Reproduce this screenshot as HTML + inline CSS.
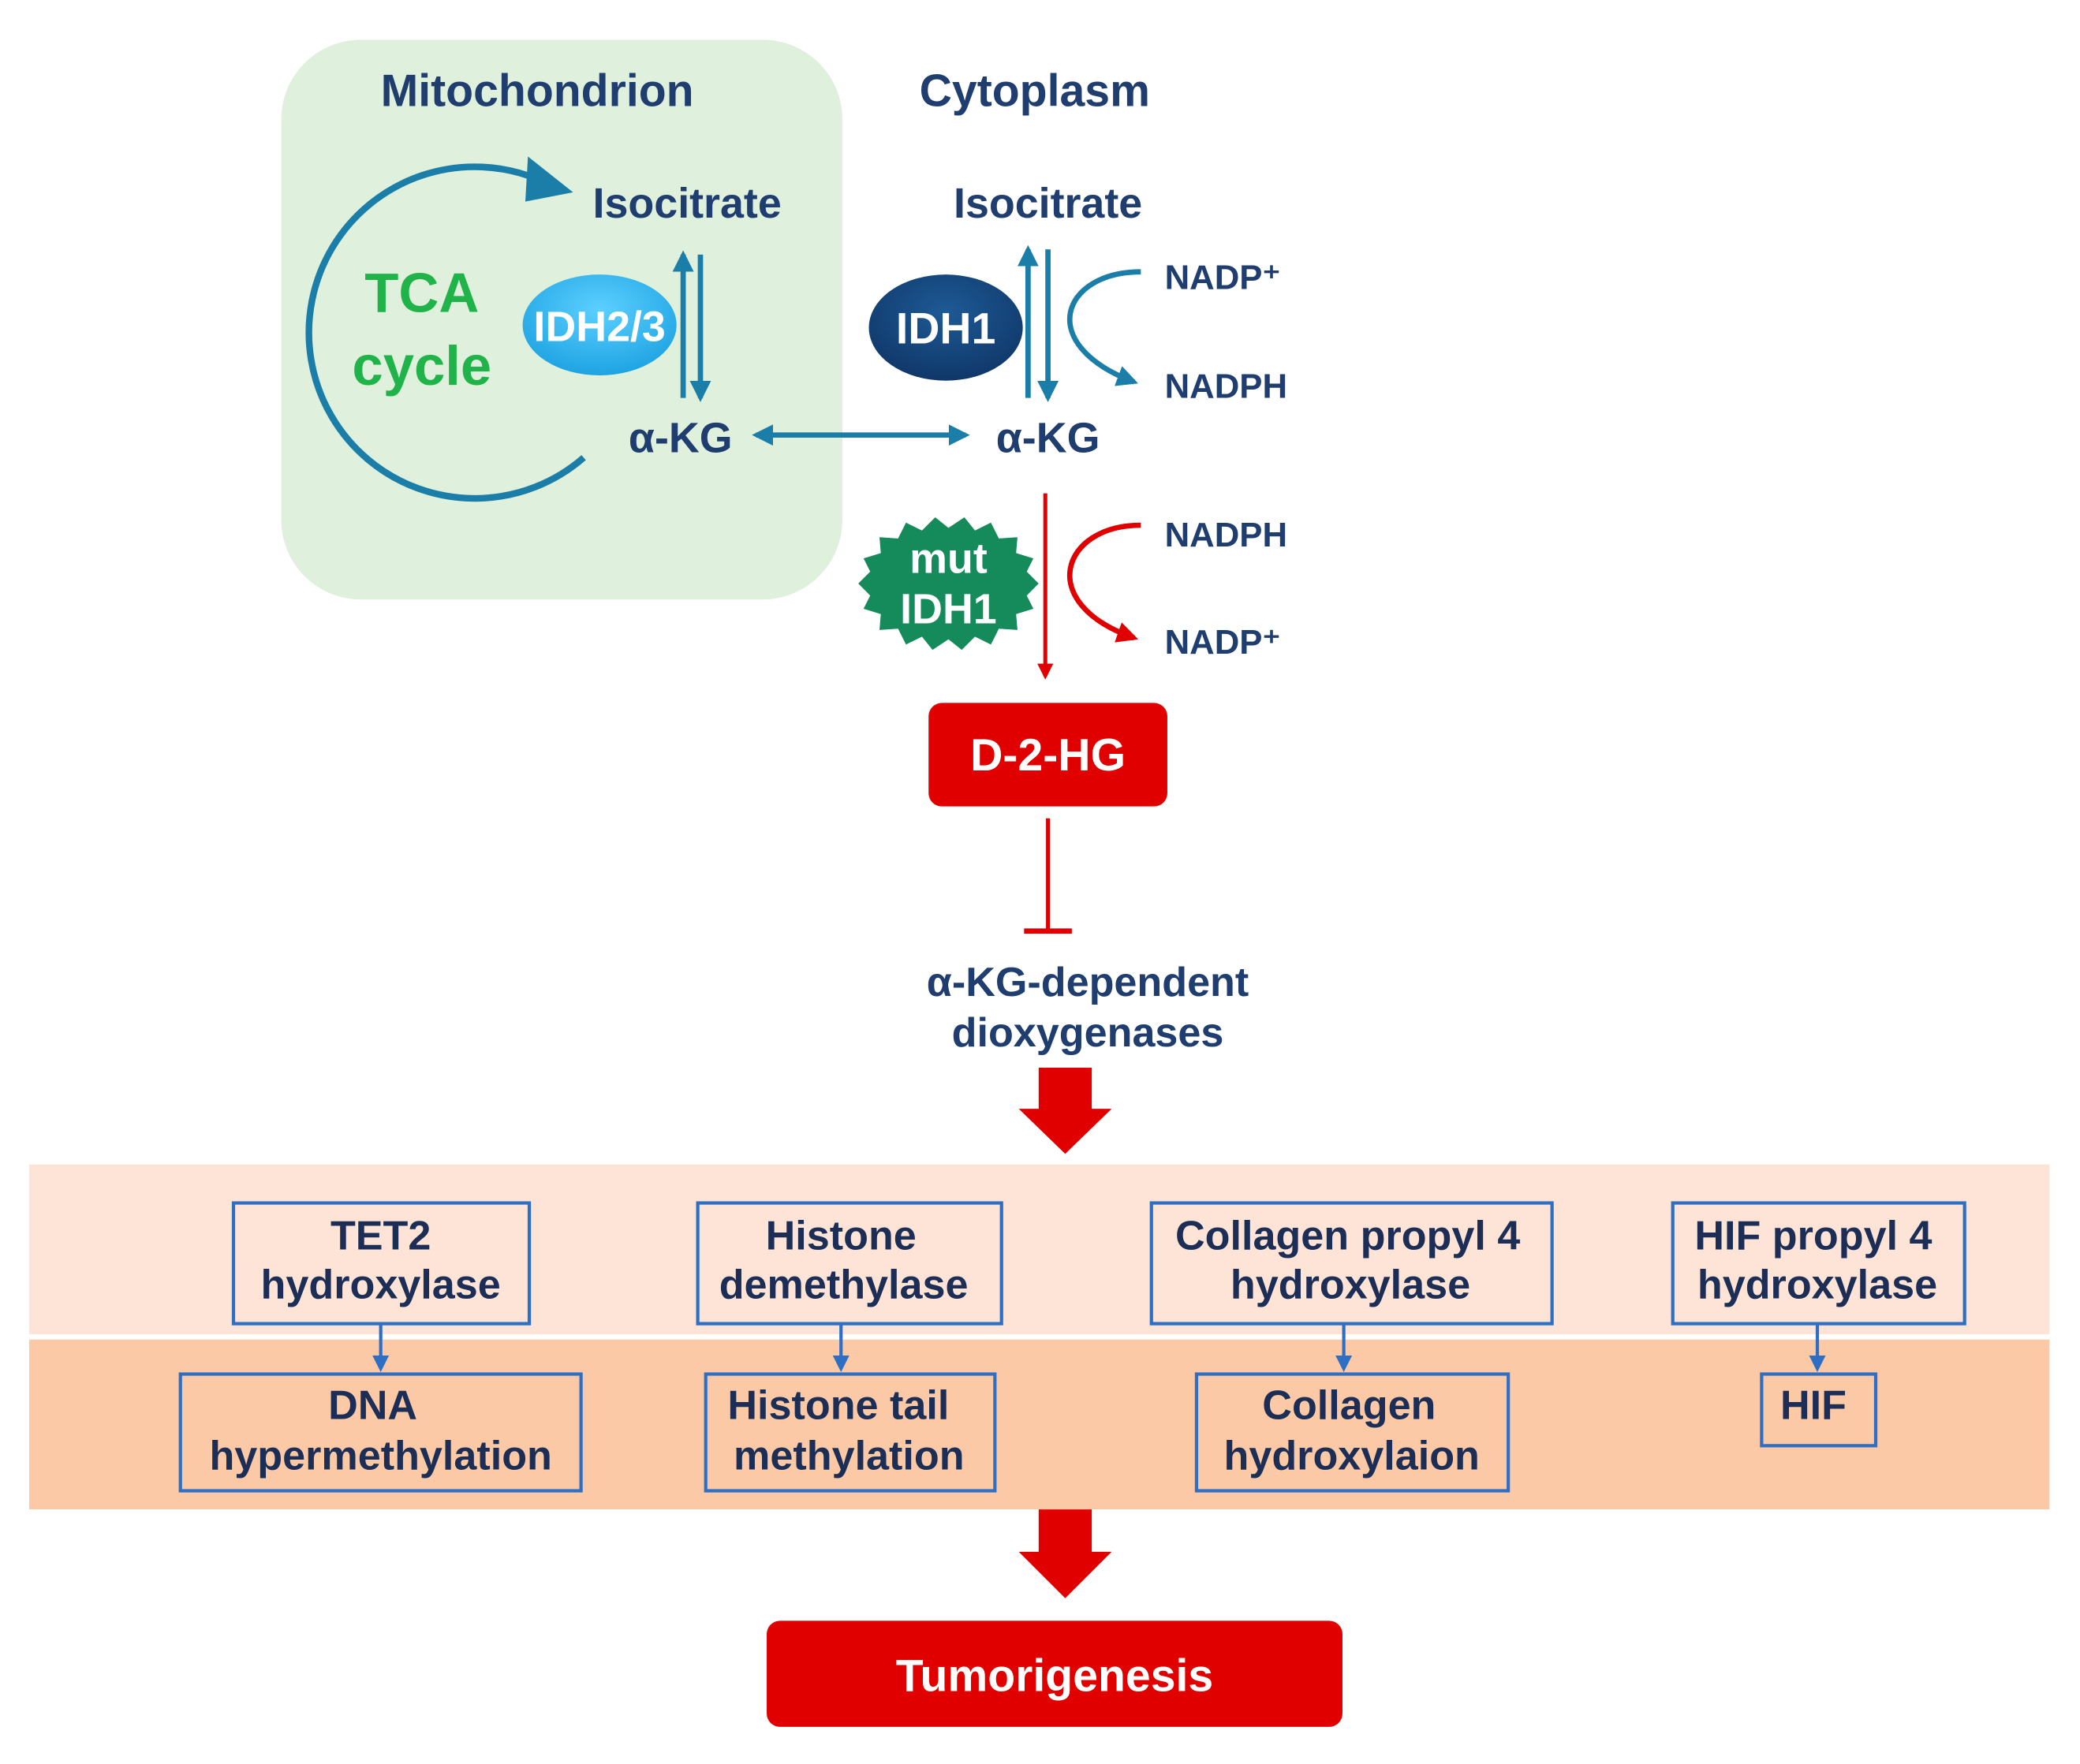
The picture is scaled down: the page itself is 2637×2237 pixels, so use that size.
<!DOCTYPE html>
<html><head><meta charset="utf-8">
<style>
html,body{margin:0;padding:0;background:#fff;}
svg{display:block;}
text{font-family:"Liberation Sans",sans-serif;font-weight:bold;}
</style></head>
<body>
<svg width="2637" height="2237" viewBox="0 0 1568 1330" preserveAspectRatio="none" xmlns="http://www.w3.org/2000/svg">
<defs>
<marker id="ab" viewBox="0 0 10 10" refX="8" refY="5" markerWidth="4" markerHeight="4" orient="auto-start-reverse"><path d="M0,0 L10,5 L0,10 z" fill="#1a7ea8"/></marker>
<marker id="ar" viewBox="0 0 10 10" refX="8" refY="5" markerWidth="4" markerHeight="4" orient="auto"><path d="M0,0 L10,5 L0,10 z" fill="#e00000"/></marker>
<marker id="ab2" viewBox="0 0 10 10" refX="8" refY="5" markerWidth="5" markerHeight="5" orient="auto"><path d="M0,0 L10,5 L0,10 z" fill="#2e6fc4"/></marker>
<radialGradient id="g1" cx="0.5" cy="0.35" r="0.7"><stop offset="0" stop-color="#5cd0ff"/><stop offset="1" stop-color="#1aa0e0"/></radialGradient>
<radialGradient id="g2" cx="0.5" cy="0.35" r="0.7"><stop offset="0" stop-color="#1d5a95"/><stop offset="1" stop-color="#0f3566"/></radialGradient>
</defs>
<rect x="212" y="30" width="423" height="422" rx="60" fill="#dff0dc"/>
<text x="405" y="80" font-size="34" fill="#1f3d6e" text-anchor="middle">Mitochondrion</text>
<text x="780" y="80" font-size="34" fill="#1f3d6e" text-anchor="middle">Cytoplasm</text>
<!-- TCA arc -->
<path d="M440,345 A125,125 0 1 1 405,135" fill="none" stroke="#1a7ea8" stroke-width="5"/>
<path d="M398,118 L432,145 L396,152 z" fill="#1a7ea8"/>
<text x="318" y="235" font-size="42" fill="#1fb34a" text-anchor="middle">TCA</text>
<text x="318" y="290" font-size="42" fill="#1fb34a" text-anchor="middle">cycle</text>
<ellipse cx="452" cy="245" rx="58" ry="38" fill="url(#g1)"/>
<text x="452" y="257" font-size="32" fill="#fff" text-anchor="middle">IDH2/3</text>
<text x="518" y="164" font-size="32" fill="#1f3d6e" text-anchor="middle">Isocitrate</text>
<line x1="515" y1="300" x2="515" y2="192" stroke="#1a7ea8" stroke-width="4" marker-end="url(#ab)"/>
<line x1="528" y1="192" x2="528" y2="300" stroke="#1a7ea8" stroke-width="4" marker-end="url(#ab)"/>
<text x="513" y="341" font-size="32" fill="#1f3d6e" text-anchor="middle">α-KG</text>
<line x1="570" y1="328" x2="728" y2="328" stroke="#1a7ea8" stroke-width="4" marker-start="url(#ab)" marker-end="url(#ab)"/>
<!-- cytoplasm -->
<text x="790" y="164" font-size="32" fill="#1f3d6e" text-anchor="middle">Isocitrate</text>
<ellipse cx="713" cy="247" rx="58" ry="40" fill="url(#g2)"/>
<text x="713" y="259" font-size="33" fill="#fff" text-anchor="middle">IDH1</text>
<line x1="775" y1="300" x2="775" y2="188" stroke="#1a7ea8" stroke-width="4" marker-end="url(#ab)"/>
<line x1="790" y1="188" x2="790" y2="300" stroke="#1a7ea8" stroke-width="4" marker-end="url(#ab)"/>
<path d="M860,205 C800,205 780,260 855,288" fill="none" stroke="#1a7ea8" stroke-width="4" marker-end="url(#ab)"/>
<text x="878" y="218" font-size="26" fill="#1f3d6e">NADP⁺</text>
<text x="878" y="300" font-size="26" fill="#1f3d6e">NADPH</text>
<text x="790" y="341" font-size="32" fill="#1f3d6e" text-anchor="middle">α-KG</text>
<!-- mut IDH1 -->
<polygon fill="#158a5a" points="783,440 774,449 779,459 766,463 767,475 753,474 747,486 735,480 725,490 715,482 703,490 695,480 683,486 677,474 663,475 664,463 651,459 656,449 647,440 656,431 651,421 664,417 663,405 677,406 683,394 695,400 705,390 715,398 727,390 735,400 747,394 753,406 767,405 766,417 779,421 774,431"/>
<text x="715" y="432" font-size="32" fill="#fff" text-anchor="middle">mut</text>
<text x="715" y="470" font-size="32" fill="#fff" text-anchor="middle">IDH1</text>
<line x1="788" y1="372" x2="788" y2="510" stroke="#e00000" stroke-width="3" marker-end="url(#ar)"/>
<path d="M860,396 C800,396 780,455 855,481" fill="none" stroke="#e00000" stroke-width="4" marker-end="url(#ar)"/>
<text x="878" y="412" font-size="26" fill="#1f3d6e">NADPH</text>
<text x="878" y="493" font-size="26" fill="#1f3d6e">NADP⁺</text>
<rect x="700" y="530" width="180" height="78" rx="10" fill="#e00000"/>
<text x="790" y="581" font-size="34" fill="#fff" text-anchor="middle">D-2-HG</text>
<line x1="790" y1="617" x2="790" y2="702" stroke="#e00000" stroke-width="3"/>
<line x1="772" y1="702" x2="808" y2="702" stroke="#e00000" stroke-width="4"/>
<text x="820" y="751" font-size="31" fill="#1f3d6e" text-anchor="middle">α-KG-dependent</text>
<text x="820" y="789" font-size="31" fill="#1f3d6e" text-anchor="middle">dioxygenases</text>
<path d="M783,805 L823,805 L823,836 L838,836 L803,870 L768,836 L783,836 z" fill="#e00000"/>
<!-- bands -->
<rect x="22" y="878" width="1523" height="128" fill="#fde4d6"/>
<rect x="22" y="1010" width="1523" height="128" fill="#fbc9a6"/>
<g fill="none" stroke="#2e6fc4" stroke-width="2.5">
<rect x="176" y="907" width="223" height="91"/>
<rect x="526" y="907" width="229" height="91"/>
<rect x="868" y="907" width="302" height="91"/>
<rect x="1261" y="907" width="220" height="91"/>
<rect x="136" y="1036" width="302" height="88"/>
<rect x="532" y="1036" width="218" height="88"/>
<rect x="902" y="1036" width="235" height="88"/>
<rect x="1328" y="1036" width="86" height="54"/>
</g>
<g stroke="#2e6fc4" stroke-width="2.5">
<line x1="287" y1="998" x2="287" y2="1032" marker-end="url(#ab2)"/>
<line x1="634" y1="998" x2="634" y2="1032" marker-end="url(#ab2)"/>
<line x1="1013" y1="998" x2="1013" y2="1032" marker-end="url(#ab2)"/>
<line x1="1370" y1="998" x2="1370" y2="1032" marker-end="url(#ab2)"/>
</g>
<g font-size="31" fill="#1c2e55" text-anchor="middle">
<text x="287" y="942">TET2</text><text x="287" y="979">hydroxylase</text>
<text x="634" y="942">Histone</text><text x="636" y="979">demethylase</text>
<text x="1016" y="942">Collagen propyl 4</text><text x="1018" y="979">hydroxylase</text>
<text x="1367" y="942">HIF propyl 4</text><text x="1370" y="979">hydroxylase</text>
<text x="281" y="1070">DNA</text><text x="287" y="1108">hypermethylation</text>
<text x="632" y="1070">Histone tail</text><text x="640" y="1108">methylation</text>
<text x="1017" y="1070">Collagen</text><text x="1019" y="1108">hydroxylaion</text>
<text x="1367" y="1070">HIF</text>
</g>
<path d="M783,1138 L823,1138 L823,1170 L838,1170 L803,1205 L768,1170 L783,1170 z" fill="#e00000"/>
<rect x="578" y="1222" width="434" height="80" rx="10" fill="#e00000"/>
<text x="795" y="1275" font-size="34" fill="#fff" text-anchor="middle">Tumorigenesis</text>
</svg>
</body></html>
